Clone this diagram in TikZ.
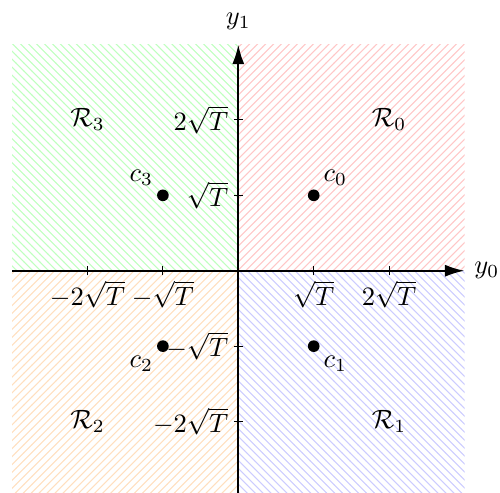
\documentclass[tikz,border=0pt]{standalone}
\usepackage{amsmath,amssymb}
\usepackage{xcolor}
\usepackage{tikz}
\usetikzlibrary{arrows.meta,positioning,patterns}
\colorlet{regzero}{red!22}
\colorlet{regone}{blue!20}
\colorlet{regtwo}{orange!25}
\colorlet{regthree}{green!25}

\begin{document}
\begin{tikzpicture}[>={Latex[length=2.6mm,width=1.6mm]}, thick]
\useasboundingbox (-3.16,-2.94) rectangle (3.47,3.59);

% ---------- decision regions
\begin{scope}[thin]
  \fill[pattern=north east lines, pattern color=regzero] (0,0) rectangle (3,3);
  \fill[pattern=north west lines, pattern color=regone] (0,0) rectangle (3,-3);
  \fill[pattern=north east lines, pattern color=regtwo] (0,0) rectangle (-3,-3);
  \fill[pattern=north west lines, pattern color=regthree] (0,0) rectangle (-3,3);
\end{scope}

% ---------- axes and ticks
\coordinate (xmin) at (-3,0);
\coordinate (xmax) at (3,0);
\coordinate (ymin) at (0,-3);
\coordinate (ymax) at (0,3);
\draw[->] (xmin) -- (xmax) node[right] (ylabx) {$y_0$};
\draw[->] (ymin) -- (ymax) node[above=2pt] (ylaby) {$y_1$};
\foreach \t in {-2,-1,1,2}{
  \draw[thin] (\t,-0.06) -- (\t,0.06);
  \draw[thin] (-0.06,\t) -- (0.06,\t);
}
\foreach \t/\lab/\nm in {-2/-2\sqrt{T}/m2, -1/-\sqrt{T}/m1, 1/\sqrt{T}/p1, 2/2\sqrt{T}/p2}{
  \node[below, inner sep=2pt] (tx\nm) at (\t,-0.05) {$\lab$};
  \node[left, inner sep=2pt] (ty\nm) at (-0.05,\t) {$\lab$};
}

% ---------- constellation points
\fill (1,1) circle (2.2pt) node[above right] (c0) {$c_0$};
\fill (1,-1) circle (2.2pt) node[below right] (c1) {$c_1$};
\fill (-1,-1) circle (2.2pt) node[below left] (c2) {$c_2$};
\fill (-1,1) circle (2.2pt) node[above left] (c3) {$c_3$};

\node (R0) at (2,2) {$\mathcal{R}_0$};
\node (R1) at (2,-2) {$\mathcal{R}_1$};
\node (R2) at (-2,-2) {$\mathcal{R}_2$};
\node (R3) at (-2,2) {$\mathcal{R}_3$};

\end{tikzpicture}
\end{document}
